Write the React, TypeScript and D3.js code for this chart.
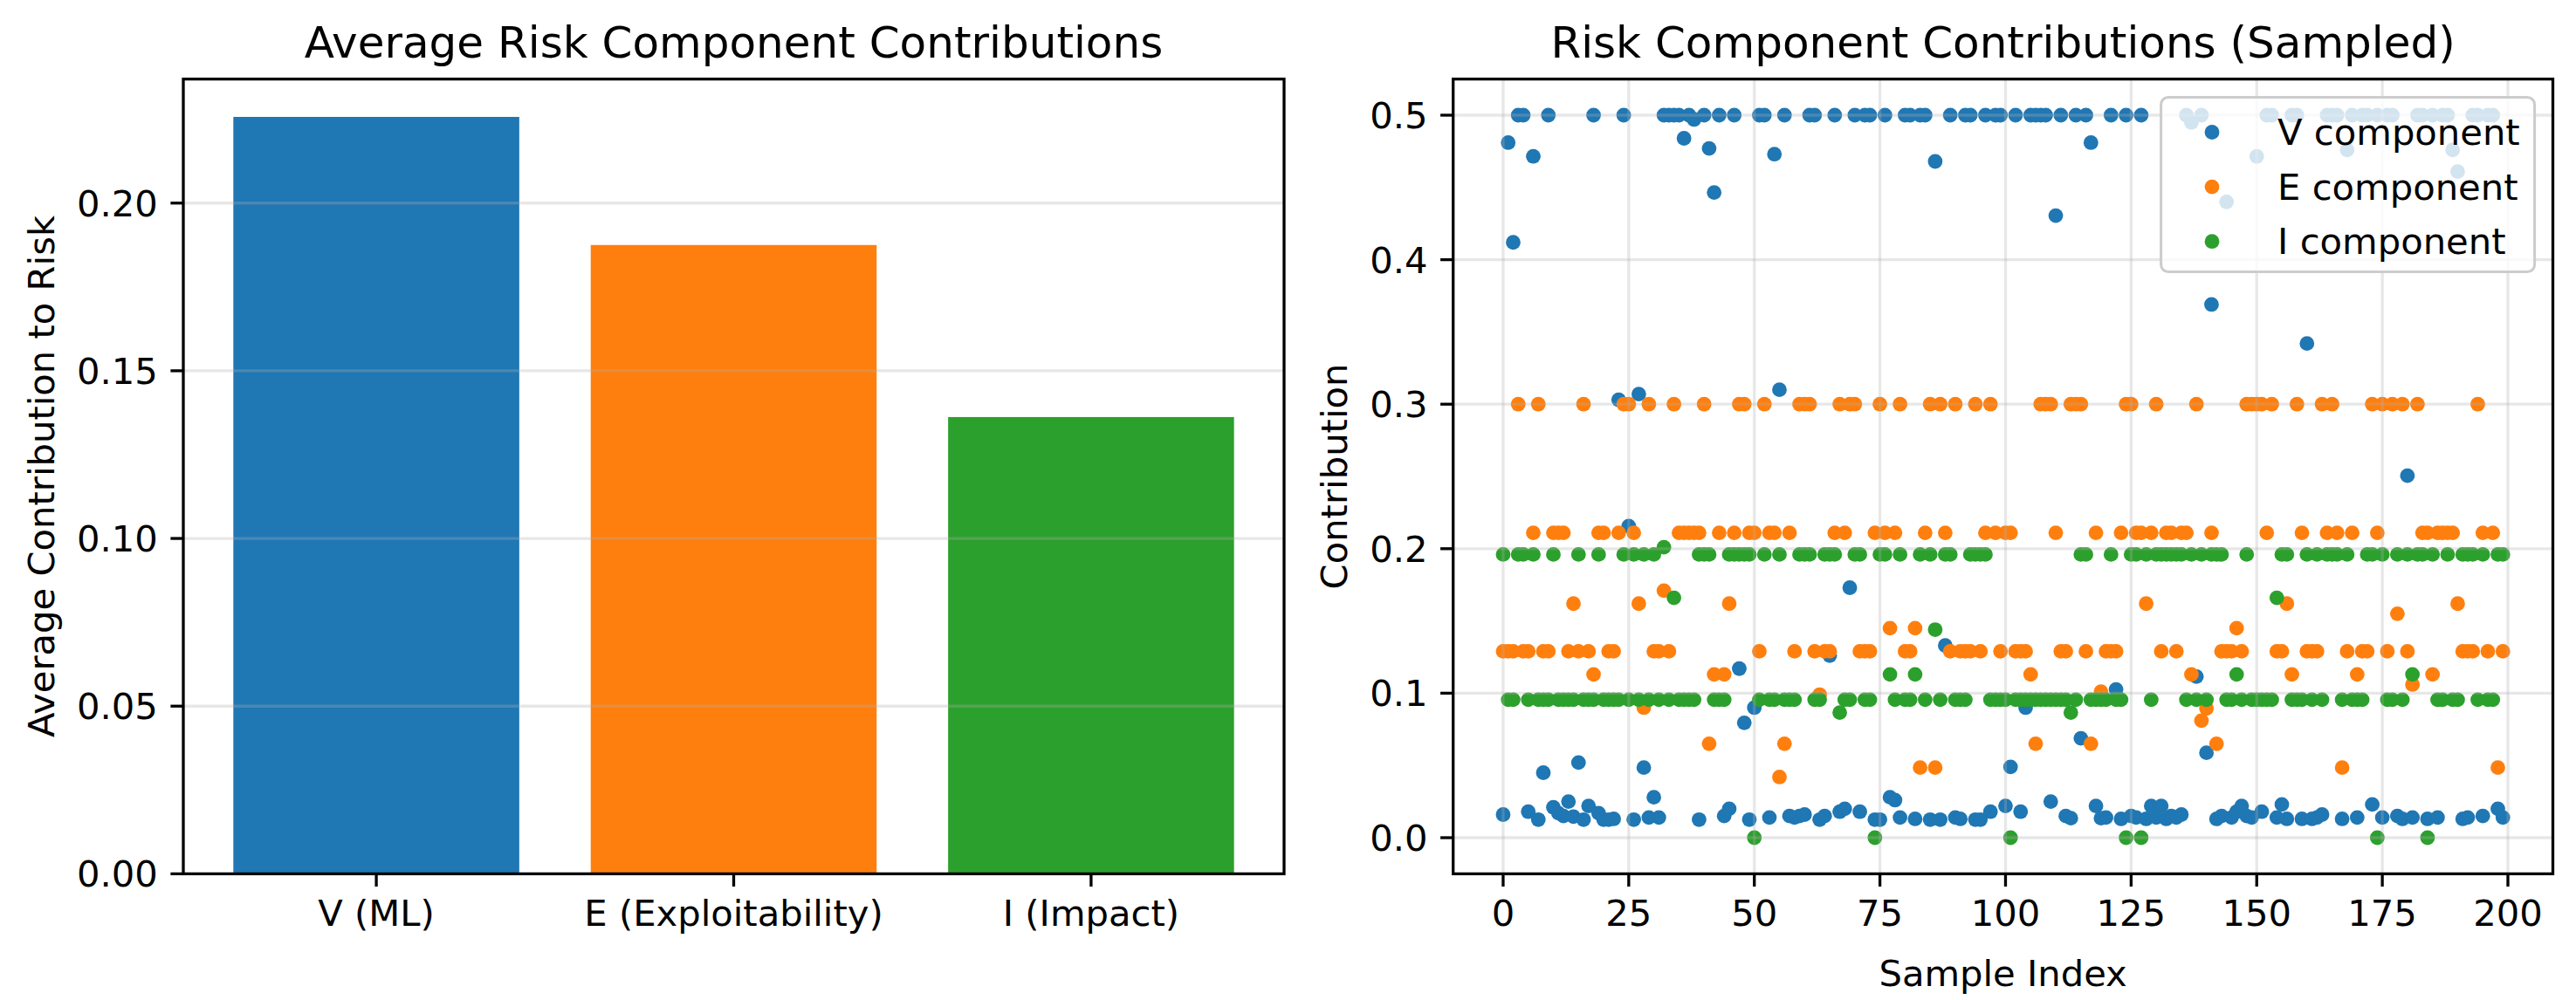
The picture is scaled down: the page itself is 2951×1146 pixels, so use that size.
import React from 'react';
import * as d3 from 'd3';

const W = 2951;
const H = 1146;
const FONT = '"DejaVu Sans", Verdana, sans-serif';
const BLUE = '#1f77b4';
const ORANGE = '#ff7f0e';
const GREEN = '#2ca02c';

// bar chart: mean contribution of each component
const BAR_LABELS = ['V (ML)', 'E (Exploitability)', 'I (Impact)'];
const BAR_VALUES = [0.2257, 0.1875, 0.1362];
const BAR_COLORS = [BLUE, ORANGE, GREEN];
const BAR_TICKS = [0, 0.05, 0.1, 0.15, 0.2];

// scatter: per-sample contributions (200 samples)
const V_COMPONENT = [
  0.016, 0.481, 0.412, 0.5, 0.5, 0.018, 0.4715, 0.0125, 0.045, 0.5,
  0.021, 0.017, 0.015, 0.025, 0.0146, 0.052, 0.0125, 0.022, 0.5, 0.017,
  0.0125, 0.0125, 0.013, 0.303, 0.5, 0.2156, 0.0125, 0.307, 0.0485, 0.014,
  0.028, 0.014, 0.5, 0.5, 0.5, 0.5, 0.484, 0.5, 0.497, 0.0125,
  0.5, 0.477, 0.4465, 0.5, 0.015, 0.02, 0.5, 0.117, 0.0795, 0.0125,
  0.09, 0.5, 0.5, 0.014, 0.473, 0.31, 0.5, 0.015, 0.014, 0.015,
  0.016, 0.5, 0.5, 0.0125, 0.015, 0.126, 0.5, 0.018, 0.02, 0.173,
  0.5, 0.018, 0.5, 0.5, 0.0125, 0.0125, 0.5, 0.028, 0.026, 0.014,
  0.5, 0.5, 0.013, 0.5, 0.5, 0.0125, 0.468, 0.0125, 0.133, 0.5,
  0.014, 0.013, 0.5, 0.5, 0.0125, 0.0125, 0.5, 0.018, 0.5, 0.5,
  0.022, 0.049, 0.5, 0.018, 0.09, 0.5, 0.5, 0.5, 0.5, 0.025,
  0.4305, 0.5, 0.015, 0.0135, 0.5, 0.0688, 0.5, 0.481, 0.022, 0.0135,
  0.014, 0.5, 0.1026, 0.013, 0.5, 0.015, 0.014, 0.5, 0.013, 0.022,
  0.014, 0.022, 0.013, 0.015, 0.014, 0.016, 0.5, 0.495, 0.1115, 0.5,
  0.0588, 0.369, 0.013, 0.015, 0.44, 0.014, 0.018, 0.022, 0.015, 0.014,
  0.4715, 0.018, 0.5, 0.5, 0.014, 0.023, 0.013, 0.5, 0.5, 0.013,
  0.342, 0.013, 0.014, 0.016, 0.5, 0.5, 0.5, 0.013, 0.476, 0.5,
  0.014, 0.5, 0.5, 0.023, 0.5, 0.014, 0.5, 0.5, 0.015, 0.013,
  0.2505, 0.014, 0.5, 0.5, 0.013, 0.5, 0.014, 0.5, 0.5, 0.476,
  0.461, 0.013, 0.014, 0.5, 0.5, 0.015, 0.5, 0.5, 0.02, 0.014,
];

const E_COMPONENT = [
  0.129, 0.129, 0.129, 0.3, 0.129, 0.129, 0.211, 0.3, 0.129, 0.129,
  0.211, 0.211, 0.211, 0.129, 0.162, 0.129, 0.3, 0.129, 0.113, 0.211,
  0.211, 0.129, 0.129, 0.211, 0.3, 0.3, 0.211, 0.162, 0.09, 0.3,
  0.129, 0.129, 0.171, 0.129, 0.3, 0.211, 0.211, 0.211, 0.211, 0.211,
  0.3, 0.065, 0.113, 0.211, 0.113, 0.162, 0.211, 0.3, 0.3, 0.211,
  0.211, 0.129, 0.3, 0.211, 0.211, 0.042, 0.065, 0.211, 0.129, 0.3,
  0.3, 0.3, 0.129, 0.099, 0.129, 0.129, 0.211, 0.3, 0.211, 0.3,
  0.3, 0.129, 0.129, 0.129, 0.211, 0.3, 0.211, 0.145, 0.211, 0.3,
  0.129, 0.129, 0.145, 0.0485, 0.211, 0.3, 0.0485, 0.3, 0.211, 0.129,
  0.3, 0.129, 0.129, 0.129, 0.3, 0.129, 0.211, 0.3, 0.211, 0.129,
  0.211, 0.211, 0.129, 0.129, 0.129, 0.113, 0.065, 0.3, 0.3, 0.3,
  0.211, 0.129, 0.129, 0.3, 0.3, 0.3, 0.129, 0.065, 0.211, 0.101,
  0.129, 0.129, 0.129, 0.211, 0.3, 0.3, 0.211, 0.211, 0.162, 0.211,
  0.3, 0.129, 0.211, 0.211, 0.129, 0.211, 0.211, 0.113, 0.3, 0.081,
  0.0895, 0.211, 0.065, 0.129, 0.129, 0.129, 0.145, 0.129, 0.3, 0.3,
  0.3, 0.3, 0.211, 0.3, 0.129, 0.129, 0.162, 0.113, 0.3, 0.211,
  0.129, 0.129, 0.129, 0.3, 0.211, 0.3, 0.211, 0.0485, 0.129, 0.211,
  0.113, 0.129, 0.129, 0.3, 0.211, 0.3, 0.129, 0.3, 0.155, 0.3,
  0.129, 0.106, 0.3, 0.211, 0.211, 0.113, 0.211, 0.211, 0.211, 0.211,
  0.162, 0.129, 0.129, 0.129, 0.3, 0.211, 0.129, 0.211, 0.0485, 0.129,
];

const I_COMPONENT = [
  0.196, 0.0955, 0.0955, 0.196, 0.196, 0.0955, 0.196, 0.0955, 0.0955, 0.0955,
  0.196, 0.0955, 0.0955, 0.0955, 0.0955, 0.196, 0.0955, 0.0955, 0.0955, 0.196,
  0.0955, 0.0955, 0.0955, 0.0955, 0.196, 0.0955, 0.196, 0.0955, 0.196, 0.0955,
  0.196, 0.0955, 0.201, 0.0955, 0.166, 0.0955, 0.0955, 0.0955, 0.0955, 0.196,
  0.196, 0.196, 0.0955, 0.0955, 0.0955, 0.196, 0.196, 0.196, 0.196, 0.196,
  0, 0.0955, 0.196, 0.0955, 0.0955, 0.196, 0.0955, 0.0955, 0.0955, 0.196,
  0.196, 0.196, 0.0955, 0.0955, 0.196, 0.196, 0.196, 0.0866, 0.0955, 0.0955,
  0.196, 0.196, 0.0955, 0.0955, 0, 0.196, 0.196, 0.113, 0.0955, 0.196,
  0.0955, 0.0955, 0.113, 0.196, 0.0955, 0.196, 0.144, 0.0955, 0.196, 0.196,
  0.0955, 0.0955, 0.0955, 0.196, 0.196, 0.196, 0.196, 0.0955, 0.0955, 0.0955,
  0.0955, 0, 0.0955, 0.0955, 0.0955, 0.0955, 0.0955, 0.0955, 0.0955, 0.0955,
  0.0955, 0.0955, 0.0955, 0.0866, 0.0955, 0.196, 0.196, 0.0955, 0.0955, 0.0955,
  0.0955, 0.196, 0.0955, 0.0955, 0, 0.196, 0.196, 0, 0.196, 0.0955,
  0.196, 0.196, 0.196, 0.196, 0.196, 0.196, 0.0955, 0.196, 0.0955, 0.196,
  0.0955, 0.196, 0.196, 0.196, 0.0955, 0.0955, 0.113, 0.0955, 0.196, 0.0955,
  0.0955, 0.0955, 0.0955, 0.0955, 0.166, 0.196, 0.196, 0.0955, 0.0955, 0.0955,
  0.196, 0.0955, 0.196, 0.0955, 0.196, 0.196, 0.196, 0.0955, 0.196, 0.0955,
  0.0955, 0.0955, 0.196, 0.196, 0, 0.196, 0.0955, 0.0955, 0.196, 0.0955,
  0.196, 0.113, 0.196, 0.196, 0, 0.196, 0.0955, 0.0955, 0.196, 0.0955,
  0.0955, 0.196, 0.196, 0.196, 0.0955, 0.196, 0.0955, 0.0955, 0.196, 0.196,
];

const SERIES = [
  { name: 'V component', values: V_COMPONENT, color: BLUE },
  { name: 'E component', values: E_COMPONENT, color: ORANGE },
  { name: 'I component', values: I_COMPONENT, color: GREEN },
];
const X_TICKS = [0, 25, 50, 75, 100, 125, 150, 175, 200];
const Y_TICKS = [0, 0.1, 0.2, 0.3, 0.4, 0.5];

// sizes in px (figure rendered at 300 dpi)
const FS = 41.7;
const TITLE_FS = 50;
const LW = 3.3;
const TICK_LEN = 14.6;
const TICK_PAD = 14.6;
const DOT_R = 8.4;
const TOP = 90.6;
const BOTTOM = 1001.4;

export default function App() {
  // left panel
  const bx = d3.scaleLinear().domain([-0.54, 2.54]).range([210, 1471]);
  const by = d3.scaleLinear().domain([0, (d3.max(BAR_VALUES) as number) * 1.05]).range([BOTTOM, TOP]);
  // right panel
  const sx = d3.scaleLinear().domain([-9.95, 208.95]).range([1664.7, 2924.5]);
  const sy = d3.scaleLinear().domain([-0.025, 0.525]).range([BOTTOM, TOP]);

  const [bx0, bx1] = bx.range();
  const [sx0, sx1] = sx.range();

  const legendW = 428;
  const legendH = 200;
  const legendX = sx1 - 20.9 - legendW;
  const legendY = TOP + 20.9;

  return (
    <div style={{ position: 'absolute', left: 0, top: 0 }}>
      <svg width={W} height={H} viewBox={`0 0 ${W} ${H}`} style={{ display: 'block', background: '#fff' }} fontFamily={FONT}>
        <rect x={0} y={0} width={W} height={H} fill="#fff" />

        {/* ---- bar chart ---- */}
        <g>
          {BAR_VALUES.map((v, i) => (
            <rect key={BAR_LABELS[i]} x={bx(i - 0.4)} y={by(v)} width={bx(i + 0.4) - bx(i - 0.4)}
              height={by(0) - by(v)} fill={BAR_COLORS[i]} />
          ))}
          {BAR_TICKS.map(t => (
            <line key={t} x1={bx0} x2={bx1} y1={by(t)} y2={by(t)} stroke="#b0b0b0" strokeOpacity={0.3} strokeWidth={LW} />
          ))}
          <rect x={bx0} y={TOP} width={bx1 - bx0} height={BOTTOM - TOP} fill="none" stroke="#000" strokeWidth={LW} />
          {BAR_TICKS.map(t => (
            <g key={t}>
              <line x1={bx0 - TICK_LEN} x2={bx0} y1={by(t)} y2={by(t)} stroke="#000" strokeWidth={LW} />
              <text x={bx0 - TICK_LEN - TICK_PAD} y={by(t) + FS * 0.36} fontSize={FS} textAnchor="end">{t.toFixed(2)}</text>
            </g>
          ))}
          {BAR_LABELS.map((l, i) => (
            <g key={l}>
              <line x1={bx(i)} x2={bx(i)} y1={BOTTOM} y2={BOTTOM + TICK_LEN} stroke="#000" strokeWidth={LW} />
              <text x={bx(i)} y={1061} fontSize={FS} textAnchor="middle">{l}</text>
            </g>
          ))}
          <text x={(bx0 + bx1) / 2} y={66} fontSize={TITLE_FS} textAnchor="middle">Average Risk Component Contributions</text>
          <text transform={`translate(61.5, ${(TOP + BOTTOM) / 2}) rotate(-90)`} fontSize={FS} textAnchor="middle">Average Contribution to Risk</text>
        </g>

        {/* ---- scatter ---- */}
        <g>
          {SERIES.map(s => (
            <g key={s.name} fill={s.color}>
              {s.values.map((v, i) => (
                <circle key={i} cx={sx(i)} cy={sy(v)} r={DOT_R} />
              ))}
            </g>
          ))}
          {X_TICKS.map(t => (
            <line key={'gx' + t} x1={sx(t)} x2={sx(t)} y1={TOP} y2={BOTTOM} stroke="#b0b0b0" strokeOpacity={0.3} strokeWidth={LW} />
          ))}
          {Y_TICKS.map(t => (
            <line key={'gy' + t} x1={sx0} x2={sx1} y1={sy(t)} y2={sy(t)} stroke="#b0b0b0" strokeOpacity={0.3} strokeWidth={LW} />
          ))}
          <rect x={sx0} y={TOP} width={sx1 - sx0} height={BOTTOM - TOP} fill="none" stroke="#000" strokeWidth={LW} />
          {X_TICKS.map(t => (
            <g key={'tx' + t}>
              <line x1={sx(t)} x2={sx(t)} y1={BOTTOM} y2={BOTTOM + TICK_LEN} stroke="#000" strokeWidth={LW} />
              <text x={sx(t)} y={1061} fontSize={FS} textAnchor="middle">{t}</text>
            </g>
          ))}
          {Y_TICKS.map(t => (
            <g key={'ty' + t}>
              <line x1={sx0 - TICK_LEN} x2={sx0} y1={sy(t)} y2={sy(t)} stroke="#000" strokeWidth={LW} />
              <text x={sx0 - TICK_LEN - TICK_PAD} y={sy(t) + FS * 0.36} fontSize={FS} textAnchor="end">{t.toFixed(1)}</text>
            </g>
          ))}
          <text x={(sx0 + sx1) / 2} y={66} fontSize={TITLE_FS} textAnchor="middle">Risk Component Contributions (Sampled)</text>
          <text x={(sx0 + sx1) / 2} y={1130} fontSize={FS} textAnchor="middle">Sample Index</text>
          <text transform={`translate(1543, ${(TOP + BOTTOM) / 2}) rotate(-90)`} fontSize={FS} textAnchor="middle">Contribution</text>

          {/* legend */}
          <rect x={legendX} y={legendY} width={legendW} height={legendH} rx={8.3} ry={8.3}
            fill="#fff" fillOpacity={0.8} stroke="#cccccc" strokeWidth={3} />
          {SERIES.map((s, i) => {
            const cy = legendY + 40 + i * 62.6;
            return (
              <g key={'lg' + s.name}>
                <circle cx={legendX + 58.4} cy={cy} r={DOT_R} fill={s.color} />
                <text x={legendX + 133.5} y={cy + FS * 0.35} fontSize={FS}>{s.name}</text>
              </g>
            );
          })}
        </g>
      </svg>
    </div>
  );
}
